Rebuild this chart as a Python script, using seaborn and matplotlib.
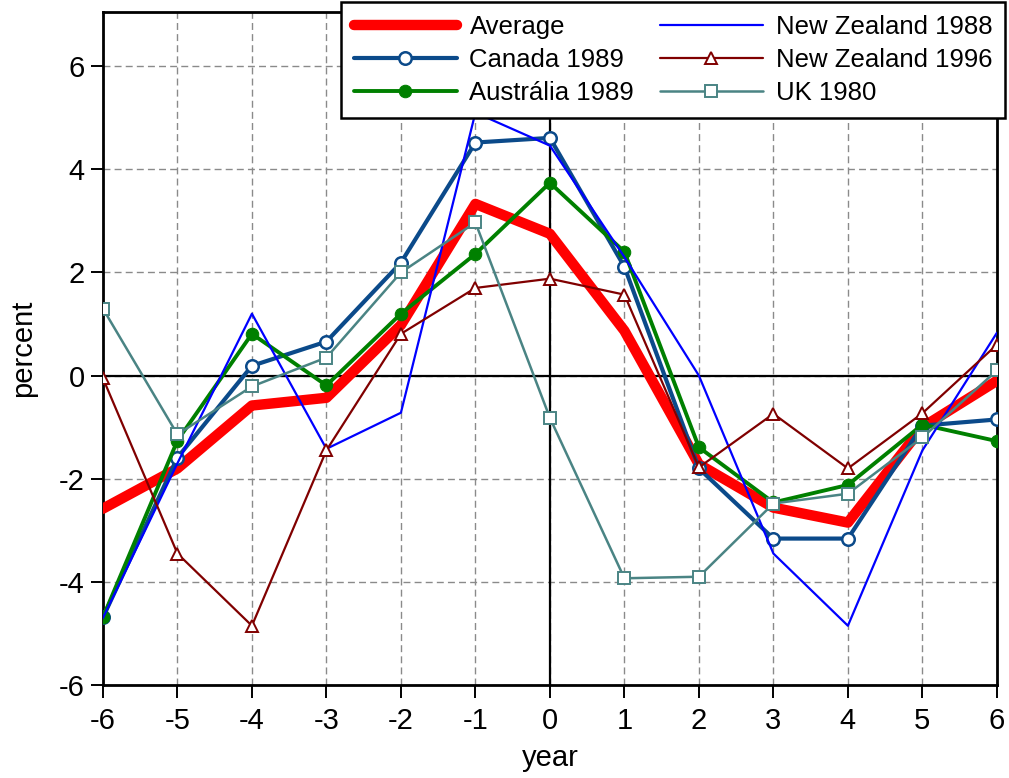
import matplotlib
matplotlib.use("Agg")
import matplotlib.pyplot as plt
import seaborn as sns
import numpy as np
import pandas as pd

years = [-6, -5, -4, -3, -2, -1, 0, 1, 2, 3, 4, 5, 6]
average = [-2.58, -1.8, -0.58, -0.43, 0.98, 3.33, 2.75, 0.87, -1.72, -2.56, -2.85, -1.0, -0.1]
canada_1989 = [-4.69, -1.59, 0.19, 0.66, 2.19, 4.52, 4.61, 2.11, -1.8, -3.16, -3.16, -0.97, -0.85]
australia_1989 = [-4.69, -1.26, 0.81, -0.19, 1.2, 2.36, 3.74, 2.4, -1.39, -2.46, -2.12, -0.95, -1.27]
nz_1988 = [-4.7, -1.7, 1.2, -1.42, -0.72, 5.1, 4.46, 2.3, 0.0, -3.45, -4.85, -1.45, 0.83]
nz_1996 = [-0.05, -3.45, -4.85, -1.45, 0.81, 1.7, 1.88, 1.57, -1.78, -0.74, -1.8, -0.73, 0.6]
uk_1980 = [1.3, -1.14, -0.21, 0.35, 2.0, 2.97, -0.82, -3.93, -3.9, -2.48, -2.29, -1.2, 0.1]

x_ticks = [-6, -5, -4, -3, -2, -1, 0, 1, 2, 3, 4, 5, 6]
y_ticks = [-6, -4, -2, 0, 2, 4, 6]

sns.set_style("white")
plt.rcParams["font.family"] = ["Liberation Sans", "DejaVu Sans"]
plt.rcParams["axes.unicode_minus"] = False
plt.rcParams["text.color"] = "black"
plt.rcParams["axes.labelcolor"] = "black"
plt.rcParams["xtick.color"] = "black"
plt.rcParams["ytick.color"] = "black"

fig = plt.figure(figsize=(10.09, 7.78), dpi=100)
ax = fig.add_axes([0.102, 0.1195, 0.886, 0.865])

# dashed grid and solid zero lines
for xv in x_ticks:
    ax.axvline(xv, color="#8a8a8a", lw=1.0, ls=(0, (5, 3)), zorder=0)
for yv in y_ticks:
    ax.axhline(yv, color="#8a8a8a", lw=1.0, ls=(0, (5, 3)), zorder=0)
ax.axhline(0, color="black", lw=1.6, zorder=1)
ax.axvline(0, color="black", lw=1.6, zorder=1)

series = [
    ("Average", average, dict(color="#FF0000", lw=7.5)),
    ("Canada 1989", canada_1989, dict(color="#0B4A8A", lw=3.0, marker="o", markersize=9,
                                       markerfacecolor="white", markeredgecolor="#0B4A8A",
                                       markeredgewidth=1.8)),
    ("Austrália 1989", australia_1989, dict(color="#008000", lw=2.8, marker="o", markersize=9,
                                            markerfacecolor="#008000", markeredgecolor="#008000")),
    ("New Zealand 1988", nz_1988, dict(color="#0000FF", lw=1.6)),
    ("New Zealand 1996", nz_1996, dict(color="#800000", lw=1.6, marker="^", markersize=9,
                                        markerfacecolor="white", markeredgecolor="#800000",
                                        markeredgewidth=1.4)),
    ("UK 1980", uk_1980, dict(color="#4A8484", lw=1.8, marker="s", markersize=8,
                              markerfacecolor="white", markeredgecolor="#4A8484",
                              markeredgewidth=1.4)),
]

for i, (name, vals, style) in enumerate(series):
    sns.lineplot(x=years, y=vals, ax=ax, label=name, zorder=3 + i, **style)

ax.set_xlim(-6, 6)
ax.set_ylim(-6, 7.05)
ax.set_xticks(x_ticks)
ax.set_yticks(y_ticks)
ax.tick_params(axis="both", which="both", direction="out", length=9, width=1.4,
               labelsize=21, color="black", left=True, bottom=True)
ax.tick_params(axis="x", pad=7)
ax.tick_params(axis="y", pad=4)
ax.set_xlabel("year", fontsize=21, labelpad=6)
ax.set_ylabel("percent", fontsize=21, labelpad=16)

for sp in ax.spines.values():
    sp.set_visible(True)
    sp.set_color("black")
    sp.set_linewidth(2.0)

leg = ax.legend(loc="upper right", bbox_to_anchor=(1005 / 1009, 1 - 2 / 778),
                bbox_transform=fig.transFigure, ncol=2, fontsize=18.5, frameon=True,
                fancybox=False, shadow=False, handlelength=4.0, columnspacing=1.0,
                labelspacing=0.35, borderpad=0.5, handletextpad=0.5, borderaxespad=0)
leg.get_frame().set_edgecolor("black")
leg.get_frame().set_linewidth(1.8)
leg.get_frame().set_alpha(1.0)
leg.set_zorder(20)

fig.savefig("out.png", dpi=100)
